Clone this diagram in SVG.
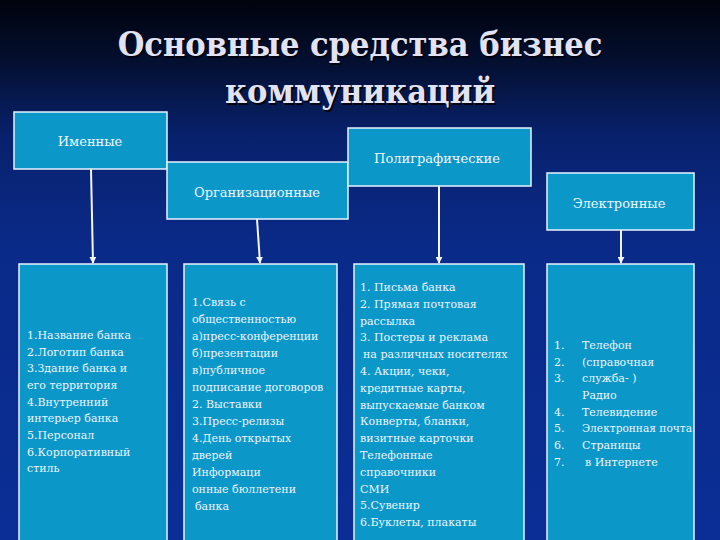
<svg xmlns="http://www.w3.org/2000/svg" width="720" height="540" viewBox="0 0 720 540">
<defs>
<linearGradient id="bg" x1="0" y1="0" x2="0" y2="1">
<stop offset="0" stop-color="#01030c"/>
<stop offset="0.12" stop-color="#041032"/>
<stop offset="0.25" stop-color="#08216c"/>
<stop offset="0.45" stop-color="#0a2a88"/>
<stop offset="1" stop-color="#0b2e96"/>
</linearGradient>
<marker id="ah" viewBox="0 0 10 10" refX="9" refY="5" markerWidth="3.5" markerHeight="3.5" orient="auto" markerUnits="strokeWidth">
<path d="M0,0 L10,5 L0,10 z" fill="#f4f6ff"/>
</marker>
<style>
.box{fill:#0b98c9;stroke:#e8f2ff;stroke-width:1.5}
.hd{font-family:"DejaVu Serif","Liberation Serif",serif;font-size:13px;fill:#eef4ff;text-anchor:middle;dominant-baseline:central}
.tx{font-family:"DejaVu Serif","Liberation Serif",serif;font-size:11px;fill:#eef4ff}
.title{font-family:"DejaVu Serif Condensed","DejaVu Serif",serif;font-stretch:condensed;font-weight:bold;font-size:34px;text-anchor:middle}
.con{stroke:#f4f6ff;stroke-width:2;fill:none;marker-end:url(#ah)}
</style>
</defs>
<rect width="720" height="540" fill="url(#bg)"/>
<g id="title">
<text class="title" x="361.5" y="57.5" fill="#000412">Основные средства бизнес</text>
<text class="title" x="361.5" y="104.5" fill="#000412">коммуникаций</text>
<text class="title" x="360" y="56" fill="#e2e2f2">Основные средства бизнес</text>
<text class="title" x="360" y="103" fill="#e2e2f2">коммуникаций</text>
</g>
<g id="connectors">
<path class="con" d="M91,169 L93,263"/>
<path class="con" d="M257,219 L260,263"/>
<path class="con" d="M439,186 L439,263"/>
<path class="con" d="M621,230 L621,263"/>
</g>
<g id="n-imennye">
<rect class="box" x="14" y="112" width="153" height="57"/>
<text class="hd" x="90" y="141">Именные</text>
</g>
<g id="n-org">
<rect class="box" x="167" y="162" width="181" height="57"/>
<text class="hd" x="257" y="192">Организационные</text>
</g>
<g id="n-poli">
<rect class="box" x="348" y="128" width="183" height="58"/>
<text class="hd" x="437" y="158">Полиграфические</text>
</g>
<g id="n-elektr">
<rect class="box" x="547" y="173" width="147" height="57"/>
<text class="hd" x="619" y="203">Электронные</text>
</g>
<g id="n-list1">
<rect class="box" x="19" y="264" width="148" height="280"/>
<text class="tx" x="27" y="339">1.Название банка</text>
<text class="tx" x="27" y="356">2.Логотип банка</text>
<text class="tx" x="27" y="372">3.Здание банка и</text>
<text class="tx" x="27" y="389">его территория</text>
<text class="tx" x="27" y="406">4.Внутренний</text>
<text class="tx" x="27" y="422">интерьер банка</text>
<text class="tx" x="27" y="439">5.Персонал</text>
<text class="tx" x="27" y="456">6.Корпоративный</text>
<text class="tx" x="27" y="472">стиль</text>
</g>
<g id="n-list2">
<rect class="box" x="184" y="264" width="153" height="280"/>
<text class="tx" x="192" y="306">1.Связь с</text>
<text class="tx" x="192" y="323">общественностью</text>
<text class="tx" x="192" y="340">а)пресс-конференции</text>
<text class="tx" x="192" y="357">б)презентации</text>
<text class="tx" x="192" y="374">в)публичное</text>
<text class="tx" x="192" y="391">подписание договоров</text>
<text class="tx" x="192" y="408">2. Выставки</text>
<text class="tx" x="192" y="425">3.Пресс-релизы</text>
<text class="tx" x="192" y="442">4.День открытых</text>
<text class="tx" x="192" y="459">дверей</text>
<text class="tx" x="192" y="476">Информаци</text>
<text class="tx" x="192" y="493">онные бюллетени</text>
<text class="tx" x="195" y="510">банка</text>
</g>
<g id="n-list3">
<rect class="box" x="354" y="264" width="170" height="280"/>
<text class="tx" x="360" y="291">1. Письма банка</text>
<text class="tx" x="360" y="308">2. Прямая почтовая</text>
<text class="tx" x="360" y="325">рассылка</text>
<text class="tx" x="360" y="341">3. Постеры и реклама</text>
<text class="tx" x="363" y="358">на различных носителях</text>
<text class="tx" x="360" y="375">4. Акции, чеки,</text>
<text class="tx" x="360" y="392">кредитные карты,</text>
<text class="tx" x="360" y="409">выпускаемые банком</text>
<text class="tx" x="360" y="425">Конверты, бланки,</text>
<text class="tx" x="360" y="442">визитные карточки</text>
<text class="tx" x="360" y="459">Телефонные</text>
<text class="tx" x="360" y="476">справочники</text>
<text class="tx" x="360" y="493">СМИ</text>
<text class="tx" x="360" y="509">5.Сувенир</text>
<text class="tx" x="360" y="526">6.Буклеты, плакаты</text>
</g>
<g id="n-list4">
<rect class="box" x="547" y="264" width="147" height="280"/>
<text class="tx" x="554" y="349">1.</text>
<text class="tx" x="554" y="366">2.</text>
<text class="tx" x="554" y="382">3.</text>
<text class="tx" x="554" y="416">4.</text>
<text class="tx" x="554" y="432">5.</text>
<text class="tx" x="554" y="449">6.</text>
<text class="tx" x="554" y="466">7.</text>
<text class="tx" x="582" y="349">Телефон</text>
<text class="tx" x="582" y="366">(справочная</text>
<text class="tx" x="582" y="382">служба- )</text>
<text class="tx" x="582" y="399">Радио</text>
<text class="tx" x="582" y="416">Телевидение</text>
<text class="tx" x="582" y="432" textLength="110" lengthAdjust="spacingAndGlyphs">Электронная почта</text>
<text class="tx" x="582" y="449">Страницы</text>
<text class="tx" x="585" y="466">в Интернете</text>
</g>
</svg>
